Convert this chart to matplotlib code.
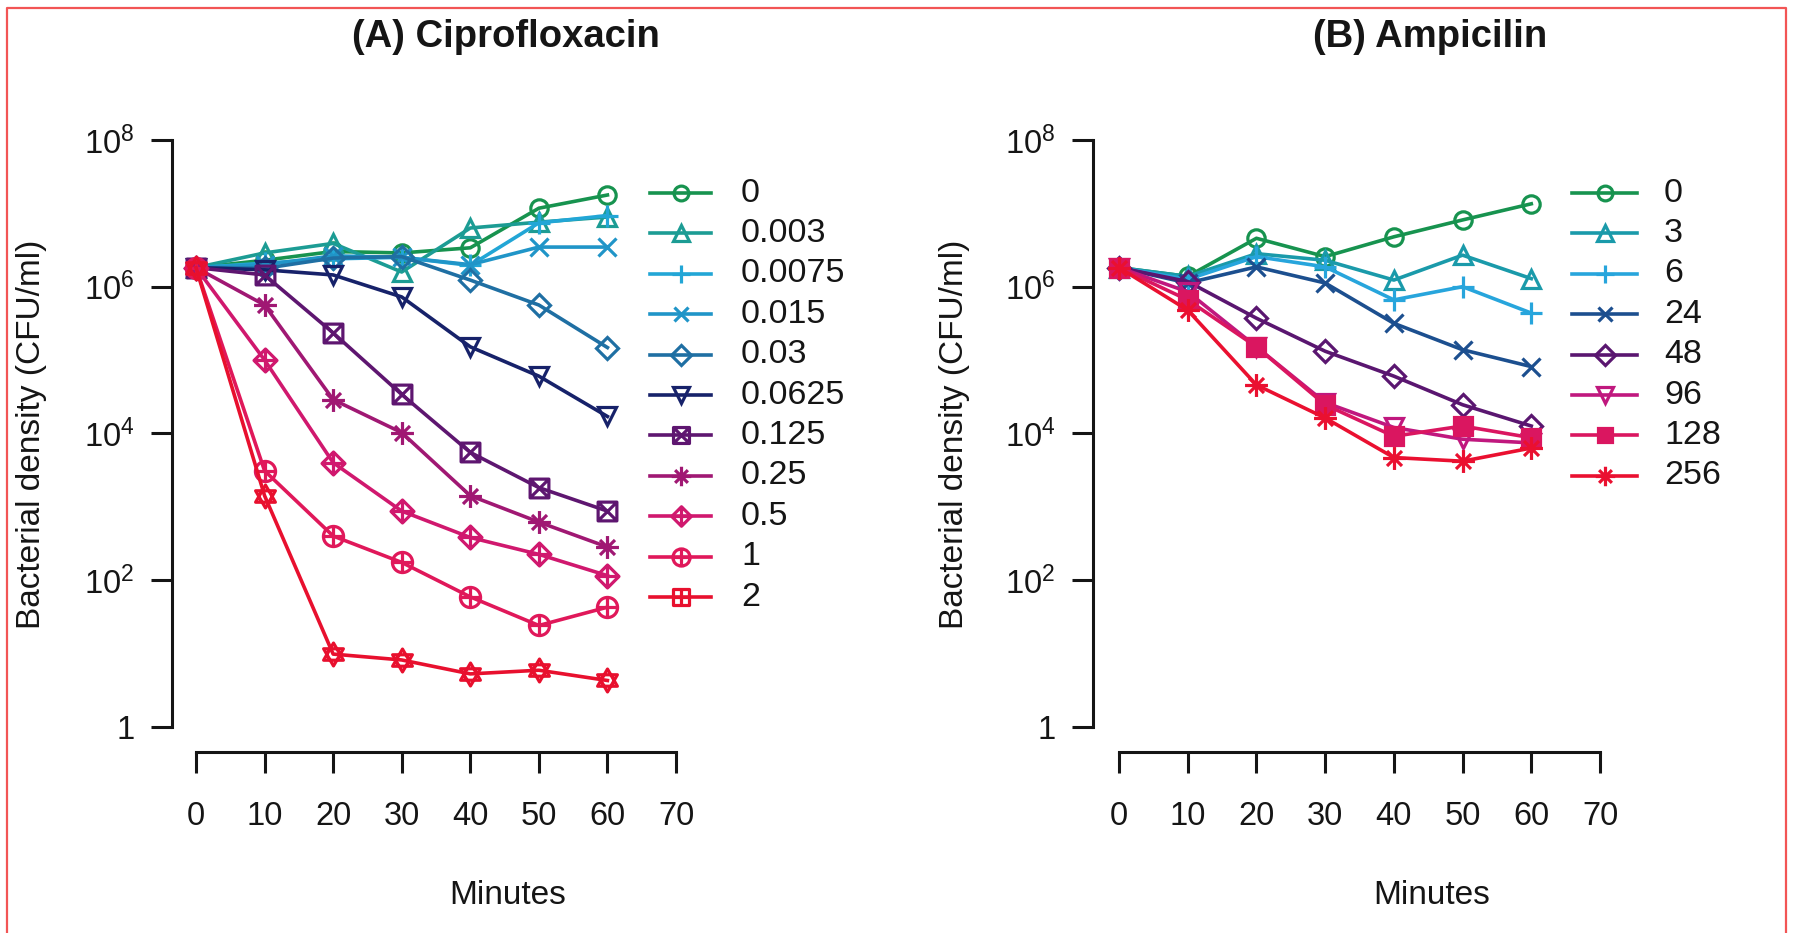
import numpy as np
import matplotlib
matplotlib.use('Agg')
import matplotlib.pyplot as plt
from matplotlib.path import Path
from matplotlib.lines import Line2D

plt.rcParams['font.family'] = ['Liberation Sans', 'DejaVu Sans']
plt.rcParams['mathtext.fontset'] = 'custom'
plt.rcParams['mathtext.rm'] = 'Liberation Sans'
plt.rcParams['mathtext.it'] = 'Liberation Sans:italic'
plt.rcParams['mathtext.bf'] = 'Liberation Sans:bold'

W, H = 1793, 933

# data (log10 of CFU/ml), time in minutes
minutes = [0, 10, 20, 30, 40, 50, 60]

cipro_labels = ['0', '0.003', '0.0075', '0.015', '0.03', '0.0625',
                '0.125', '0.25', '0.5', '1', '2']
cipro_log = [
    [6.26, 6.36, 6.48, 6.46, 6.53, 7.07, 7.25],
    [6.26, 6.46, 6.59, 6.20, 6.80, 6.88, 6.95],
    [6.26, 6.32, 6.38, 6.40, 6.29, 6.87, 6.97],
    [6.26, 6.30, 6.42, 6.40, 6.30, 6.54, 6.54],
    [6.26, 6.25, 6.39, 6.41, 6.09, 5.75, 5.17],
    [6.26, 6.23, 6.16, 5.86, 5.18, 4.78, 4.23],
    [6.26, 6.16, 5.37, 4.53, 3.74, 3.26, 2.94],
    [6.26, 5.75, 4.46, 4.01, 3.15, 2.79, 2.45],
    [6.26, 5.00, 3.60, 2.94, 2.58, 2.35, 2.06],
    [6.26, 3.49, 2.60, 2.24, 1.77, 1.38, 1.63],
    [6.26, 3.15, 0.99, 0.91, 0.72, 0.77, 0.63],
]
cipro_colors = ['#17934f', '#1c9c94', '#22a6d6', '#2095c8', '#1f6fa3', '#17226a',
                '#5e1670', '#a01873', '#d0186e', '#e0185a', '#e8102e']

ampi_labels = ['0', '3', '6', '24', '48', '96', '128', '256']
ampi_log = [
    [6.26, 6.14, 6.66, 6.41, 6.68, 6.91, 7.13],
    [6.26, 6.14, 6.45, 6.36, 6.09, 6.43, 6.11],
    [6.26, 6.10, 6.41, 6.27, 5.82, 6.00, 5.64],
    [6.26, 6.05, 6.27, 6.05, 5.50, 5.14, 4.91],
    [6.26, 6.07, 5.57, 5.12, 4.78, 4.39, 4.10],
    [6.26, 5.93, 5.18, 4.42, 4.08, 3.92, 3.87],
    [6.26, 5.82, 5.18, 4.39, 3.96, 4.10, 3.94],
    [6.26, 5.68, 4.66, 4.21, 3.67, 3.62, 3.80],
]
ampi_colors = ['#17934f', '#1a9aaa', '#27a5dc', '#1c4f8f', '#5a1670',
               '#c0187e', '#da1660', '#ea1030']

ytick_vals = [1, 1e2, 1e4, 1e6, 1e8]
ytick_labels = ['1', '$10^2$', '$10^4$', '$10^6$', '$10^8$']
xtick_vals = [0, 10, 20, 30, 40, 50, 60, 70]

FS = 24
INK = '#151515'
LW = 2.6
MEW = 2.3


# R-like plotting symbols
def lines(*segs):
    return [Path(s) for s in segs]

def closed(pts):
    return Path(pts + [pts[0]], [Path.MOVETO] + [Path.LINETO] * (len(pts) - 1) + [Path.CLOSEPOLY])

sq = closed([(-1, -1), (1, -1), (1, 1), (-1, 1)])
dia = closed([(0, 1.2), (1.2, 0), (0, -1.2), (-1.2, 0)])
plus = lines([(-1, 0), (1, 0)], [(0, -1), (0, 1)])
cross = lines([(-1, -1), (1, 1)], [(-1, 1), (1, -1)])
d = 0.72
xcross = lines([(-d, -d), (d, d)], [(-d, d), (d, -d)])
tri_up = closed([(0, 1.1), (0.95, -0.55), (-0.95, -0.55)])
tri_dn = closed([(0, -1.1), (0.95, 0.55), (-0.95, 0.55)])

m_sqx = Path.make_compound_path(sq, *cross)
m_ast = Path.make_compound_path(*(lines([(-1.1, 0), (1.1, 0)], [(0, -1.1), (0, 1.1)]) + xcross))
m_diap = Path.make_compound_path(dia, *lines([(-1.2, 0), (1.2, 0)], [(0, -1.2), (0, 1.2)]))
m_circp = Path.make_compound_path(Path.unit_circle(), *plus)
m_hex = Path.make_compound_path(tri_up, tri_dn)
m_sqp = Path.make_compound_path(sq, *plus)

# (marker, size, filled)
cipro_marks = [('o', 12.5, False), ('^', 13.5, False), ('+', 16, False), ('x', 12.5, False),
               ('D', 11.5, False), ('v', 13.5, False), (m_sqx, 13.5, False), (m_ast, 16.5, False),
               (m_diap, 16.5, False), (m_circp, 14.5, False), (m_hex, 16.5, False)]
cipro_leg_marks = cipro_marks[:-1] + [(m_sqp, 13.5, False)]
ampi_marks = [('o', 12.5, False), ('^', 13.5, False), ('+', 16, False), ('x', 12.5, False),
              ('D', 11.5, False), ('v', 13.5, False), ('s', 12.5, True), (m_ast, 16.5, False)]

fig = plt.figure(figsize=(W / 100, H / 100), dpi=100)


def px_rect(l, r, t, b):
    return [l / W, 1 - b / H, (r - l) / W, (b - t) / H]


def setup_axes(rect, x0px, x70px, lpx, rpx):
    ax = fig.add_axes(rect)
    ax.set_yscale('log')
    s = (x70px - x0px) / 70.0
    ax.set_xlim(-(x0px - lpx) / s, 70 + (rpx - x70px) / s)
    per_dec = 73.33
    ax.set_ylim(10 ** -((752 - 726.7) / per_dec), 10 ** (8 + (140 - 130) / per_dec))
    for sp in ['top', 'right']:
        ax.spines[sp].set_visible(False)
    ax.spines['left'].set_bounds(1, 1e8)
    ax.spines['bottom'].set_bounds(0, 70)
    for sp in ['left', 'bottom']:
        ax.spines[sp].set_linewidth(2.2)
        ax.spines[sp].set_color(INK)
    ax.set_yticks(ytick_vals)
    ax.set_yticklabels(ytick_labels)
    ax.yaxis.set_minor_locator(matplotlib.ticker.NullLocator())
    ax.set_xticks(xtick_vals)
    ax.set_xticklabels([str(v) for v in xtick_vals])
    ax.tick_params(direction='out', length=15, width=2.2, labelsize=FS - 0.5, colors=INK)
    ax.tick_params(axis='y', pad=12)
    ax.tick_params(axis='x', pad=20)
    ax.patch.set_visible(False)
    return ax


def draw_series(ax, logs, colors, marks):
    for vals, col, (mk, ms, filled) in zip(logs, colors, marks):
        y = 10 ** np.array(vals)
        ax.plot(minutes, y, color=col, lw=LW, marker=mk, ms=ms,
                mfc=col if filled else 'none', mec=col, mew=MEW, clip_on=False)


def draw_legend(labels, colors, marks, x0, x1, xt, y0, step):
    for k, (lab, col, (mk, ms, filled)) in enumerate(zip(labels, colors, marks)):
        y = 1 - (y0 + step * k) / H
        xm = (x0 + x1) / 2
        fig.add_artist(Line2D([x0 / W, xm / W, x1 / W], [y, y, y], color=col, lw=LW,
                              marker=mk, ms=ms * 0.85, markevery=[1],
                              mfc=col if filled else 'none', mec=col, mew=MEW))
        fig.text(xt / W, y, lab, fontsize=FS + 0.5, va='center', ha='left', color=INK)


axA = setup_axes(px_rect(172, 700, 130, 752), 196, 676, 172, 700)
draw_series(axA, cipro_log, cipro_colors, cipro_marks)
draw_legend(cipro_labels, cipro_colors, cipro_leg_marks, 650, 711, 741, 193, 40.4)

axB = setup_axes(px_rect(1093, 1620, 130, 752), 1119, 1600, 1093, 1620)
draw_series(axB, ampi_log, ampi_colors, ampi_marks)
draw_legend(ampi_labels, ampi_colors, ampi_marks, 1572, 1637, 1664, 193, 40.4)

# titles and axis labels
fig.text(506 / W, 1 - 37 / H, '(A) Ciprofloxacin', fontsize=27.5, fontweight='bold',
         ha='center', va='center', color=INK)
fig.text(1430 / W, 1 - 37 / H, '(B) Ampicilin', fontsize=27.5, fontweight='bold',
         ha='center', va='center', color=INK)
fig.text(508 / W, 1 - 895 / H, 'Minutes', fontsize=FS, ha='center', va='center', color=INK)
fig.text(1432 / W, 1 - 895 / H, 'Minutes', fontsize=FS, ha='center', va='center', color=INK)
fig.text(32 / W, 1 - 434 / H, 'Bacterial density (CFU/ml)', fontsize=FS, rotation=90,
         ha='center', va='center', color=INK)
fig.text(954 / W, 1 - 434 / H, 'Bacterial density (CFU/ml)', fontsize=FS, rotation=90,
         ha='center', va='center', color=INK)

# red frame around the panel
fig.add_artist(Line2D([7 / W, 7 / W, 1786 / W, 1786 / W], [0, 1 - 8 / H, 1 - 8 / H, 0],
                      color='#f25555', lw=1.6))

fig.savefig('out.png', dpi=100)
